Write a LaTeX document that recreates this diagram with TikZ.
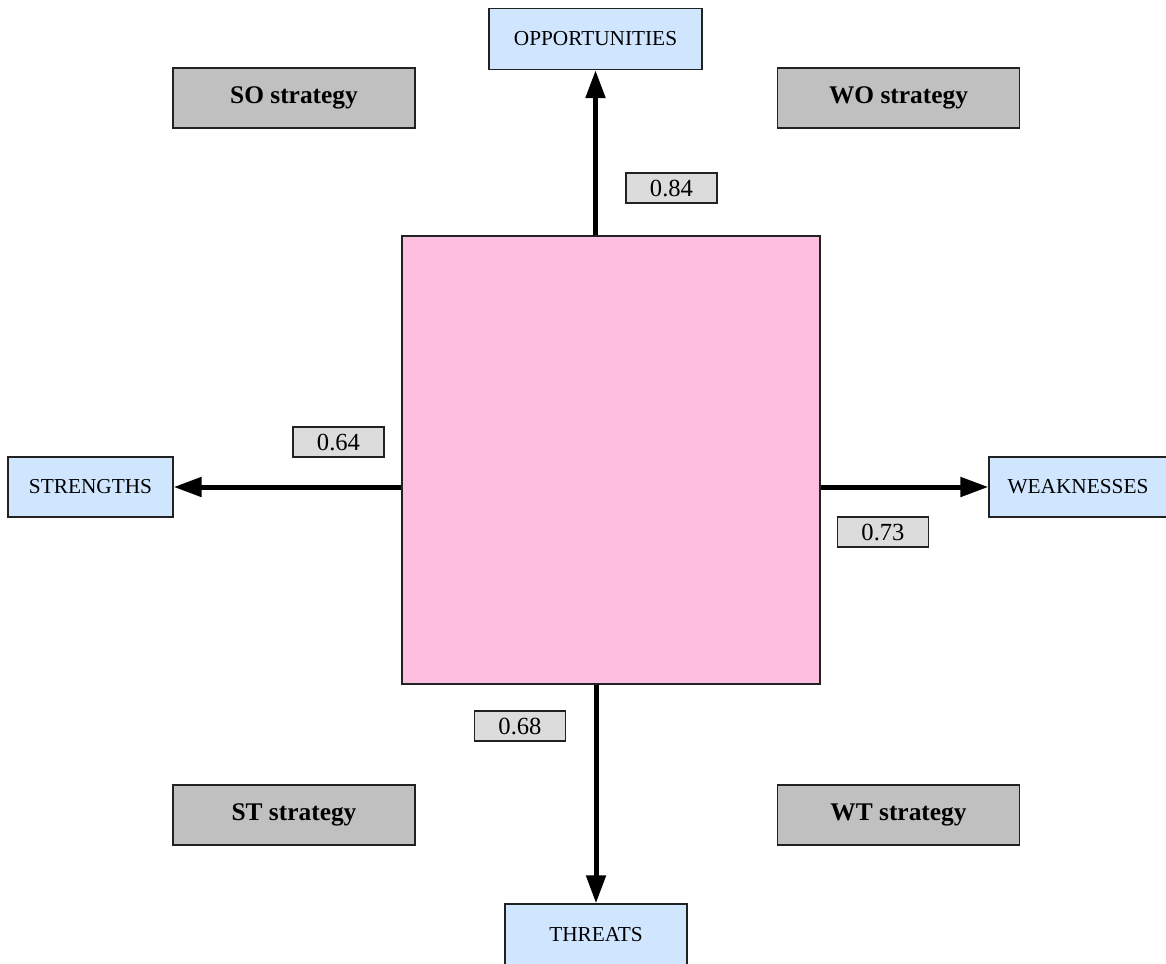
\documentclass[tikz,border=0pt]{standalone}
\usepackage{fontspec}
\setmainfont{Liberation Serif}
\usetikzlibrary{arrows.meta}
\definecolor{factorblue}{HTML}{D0E6FF}
\definecolor{corepink}{HTML}{FCBFE0}
\definecolor{stratgray}{HTML}{C0C0C0}
\definecolor{valuegray}{HTML}{DCDCDC}
\definecolor{edgegray}{HTML}{222222}
\begin{document}
\begin{tikzpicture}[x=1pt,y=-1pt,
  box/.style={draw=edgegray, line width=1.3pt, inner sep=0pt, anchor=center},
  factor/.style={box, fill=factorblue, font=\fontsize{21.3}{24}\selectfont},
  strategy/.style={box, fill=stratgray, minimum width=242pt, minimum height=60pt,
    font=\fontsize{25.4}{30}\selectfont\bfseries},
  value/.style={box, fill=valuegray, minimum width=91pt, minimum height=30pt,
    font=\fontsize{24.6}{28}\selectfont},
  conn/.style={line width=5pt, -{Triangle[length=28pt,width=19pt]}}]
\useasboundingbox (0,0) rectangle (1166,963);

% central matrix
\node[box, fill=corepink, minimum width=418pt, minimum height=448pt] (core) at (611,460) {};

% the four factors
\node[factor, minimum width=213pt, minimum height=61pt] (opp) at (595.5,39) {OPPORTUNITIES};
\node[factor, minimum width=165pt, minimum height=60pt] (str) at (90.5,487) {STRENGTHS};
\node[factor, minimum width=178pt, minimum height=60pt, text width=178pt, align=center] (weak) at (1078,487) {WEAKNESSES};
\node[factor, minimum width=182pt, minimum height=62pt] (thr) at (596,935) {THREATS};

% strategy quadrants
\node[strategy] (so) at (294,98) {SO strategy};
\node[strategy] (wo) at (898.5,98) {WO strategy};
\node[strategy] (st) at (294,815) {ST strategy};
\node[strategy] (wt) at (898.5,815) {WT strategy};

% axes
\draw[conn] (opp.south |- core.north) -- (opp.south);
\draw[conn] (core.west |- str.east) -- (str.east);
\draw[conn] (core.east |- weak.west) -- (weak.west);
\draw[conn] (thr.north |- core.south) -- (thr.north);

% axis values
\node[value] (vo) at (671.5,188) {0.84};
\node[value] (vs) at (338.5,442) {0.64};
\node[value] (vw) at (883,532) {0.73};
\node[value] (vt) at (520,726) {0.68};
\end{tikzpicture}
\end{document}
